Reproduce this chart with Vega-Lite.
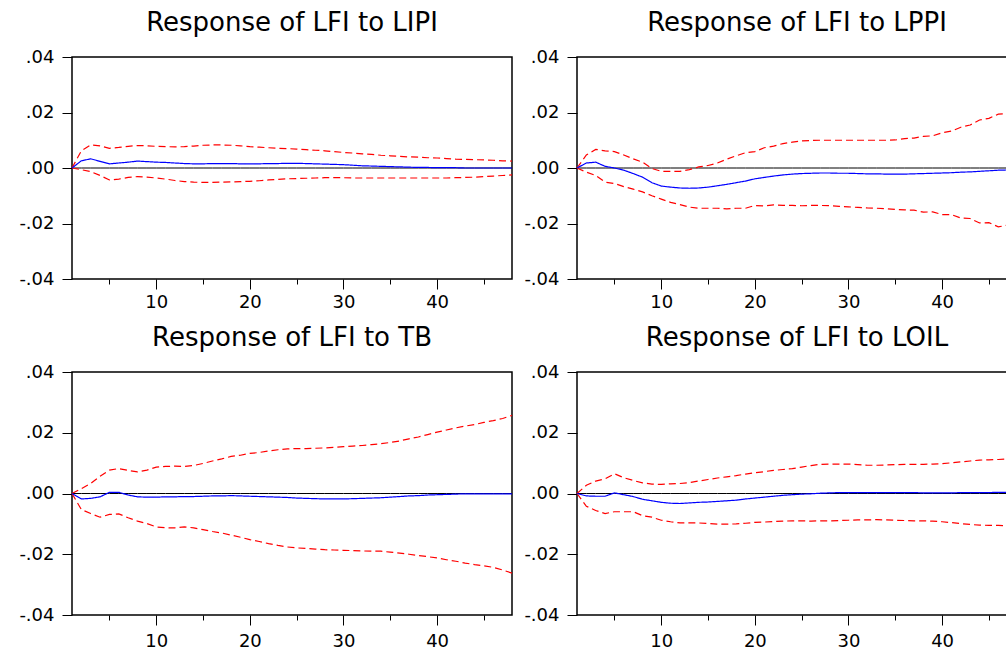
{
"$schema": "https://vega.github.io/schema/vega-lite/v6.json",
"padding": {"left": 11, "top": 9, "right": 0, "bottom": 0},
"background": "white",
"datasets": {
"LIPI": [
{"step":1,"response":0,"lower":0,"upper":0},
{"step":2,"response":0.0026,"lower":-0.0006,"upper":0.0062},
{"step":3,"response":0.0033,"lower":-0.0013,"upper":0.0083},
{"step":4,"response":0.0024,"lower":-0.0027,"upper":0.008},
{"step":5,"response":0.0015,"lower":-0.0043,"upper":0.0071},
{"step":6,"response":0.0018,"lower":-0.004,"upper":0.0074},
{"step":7,"response":0.0021,"lower":-0.0034,"upper":0.0078},
{"step":8,"response":0.0025,"lower":-0.0031,"upper":0.0081},
{"step":9,"response":0.0023,"lower":-0.0033,"upper":0.008},
{"step":10,"response":0.0021,"lower":-0.0036,"upper":0.0078},
{"step":11,"response":0.002,"lower":-0.004,"upper":0.0077},
{"step":12,"response":0.0018,"lower":-0.0045,"upper":0.0076},
{"step":13,"response":0.0016,"lower":-0.0049,"upper":0.0077},
{"step":14,"response":0.0015,"lower":-0.0051,"upper":0.0079},
{"step":15,"response":0.0015,"lower":-0.0052,"upper":0.0082},
{"step":16,"response":0.0016,"lower":-0.0052,"upper":0.0083},
{"step":17,"response":0.0016,"lower":-0.0051,"upper":0.0083},
{"step":18,"response":0.0016,"lower":-0.005,"upper":0.0082},
{"step":19,"response":0.0015,"lower":-0.0049,"upper":0.008},
{"step":20,"response":0.0015,"lower":-0.0048,"upper":0.0077},
{"step":21,"response":0.0015,"lower":-0.0046,"upper":0.0075},
{"step":22,"response":0.0016,"lower":-0.0043,"upper":0.0073},
{"step":23,"response":0.0016,"lower":-0.0041,"upper":0.0071},
{"step":24,"response":0.0017,"lower":-0.0039,"upper":0.007},
{"step":25,"response":0.0017,"lower":-0.0038,"upper":0.0068},
{"step":26,"response":0.0016,"lower":-0.0037,"upper":0.0066},
{"step":27,"response":0.0015,"lower":-0.0036,"upper":0.0064},
{"step":28,"response":0.0014,"lower":-0.0035,"upper":0.0062},
{"step":29,"response":0.0013,"lower":-0.0035,"upper":0.0059},
{"step":30,"response":0.0012,"lower":-0.0035,"upper":0.0056},
{"step":31,"response":0.001,"lower":-0.0036,"upper":0.0054},
{"step":32,"response":0.0008,"lower":-0.0036,"upper":0.0051},
{"step":33,"response":0.0007,"lower":-0.0036,"upper":0.0049},
{"step":34,"response":0.0006,"lower":-0.0036,"upper":0.0046},
{"step":35,"response":0.0005,"lower":-0.0036,"upper":0.0044},
{"step":36,"response":0.0004,"lower":-0.0036,"upper":0.0042},
{"step":37,"response":0.0003,"lower":-0.0036,"upper":0.004},
{"step":38,"response":0.0002,"lower":-0.0036,"upper":0.0039},
{"step":39,"response":0.0002,"lower":-0.0036,"upper":0.0037},
{"step":40,"response":0.0001,"lower":-0.0036,"upper":0.0036},
{"step":41,"response":0.0001,"lower":-0.0036,"upper":0.0034},
{"step":42,"response":0.0001,"lower":-0.0035,"upper":0.0032},
{"step":43,"response":0,"lower":-0.0034,"upper":0.0031},
{"step":44,"response":0,"lower":-0.0033,"upper":0.003},
{"step":45,"response":0,"lower":-0.0031,"upper":0.0029},
{"step":46,"response":0,"lower":-0.0029,"upper":0.0028},
{"step":47,"response":0,"lower":-0.0027,"upper":0.0026},
{"step":48,"response":0,"lower":-0.0025,"upper":0.0025}
],
"LPPI": [
{"step":1,"response":0,"lower":0,"upper":0},
{"step":2,"response":0.0018,"lower":-0.0015,"upper":0.0047},
{"step":3,"response":0.0021,"lower":-0.0027,"upper":0.0067},
{"step":4,"response":0.0006,"lower":-0.0051,"upper":0.0062},
{"step":5,"response":0,"lower":-0.0056,"upper":0.0059},
{"step":6,"response":-0.0008,"lower":-0.0067,"upper":0.0047},
{"step":7,"response":-0.002,"lower":-0.0076,"upper":0.0033},
{"step":8,"response":-0.0033,"lower":-0.0086,"upper":0.0021},
{"step":9,"response":-0.0053,"lower":-0.01,"upper":-0.0002},
{"step":10,"response":-0.0065,"lower":-0.0112,"upper":-0.0012},
{"step":11,"response":-0.0069,"lower":-0.0124,"upper":-0.0012},
{"step":12,"response":-0.0072,"lower":-0.0132,"upper":-0.0012},
{"step":13,"response":-0.0073,"lower":-0.0141,"upper":-0.0006},
{"step":14,"response":-0.0072,"lower":-0.0145,"upper":0.0004},
{"step":15,"response":-0.0069,"lower":-0.0145,"upper":0.0009},
{"step":16,"response":-0.0064,"lower":-0.0145,"upper":0.0018},
{"step":17,"response":-0.0059,"lower":-0.0147,"upper":0.0032},
{"step":18,"response":-0.0053,"lower":-0.0145,"upper":0.0044},
{"step":19,"response":-0.0047,"lower":-0.0145,"upper":0.0055},
{"step":20,"response":-0.0039,"lower":-0.0135,"upper":0.0059},
{"step":21,"response":-0.0034,"lower":-0.0137,"upper":0.0073},
{"step":22,"response":-0.0029,"lower":-0.0133,"upper":0.0079},
{"step":23,"response":-0.0025,"lower":-0.0135,"upper":0.0088},
{"step":24,"response":-0.0022,"lower":-0.0135,"upper":0.0093},
{"step":25,"response":-0.002,"lower":-0.0136,"upper":0.0098},
{"step":26,"response":-0.0019,"lower":-0.0135,"upper":0.0099},
{"step":27,"response":-0.0018,"lower":-0.0135,"upper":0.01},
{"step":28,"response":-0.0018,"lower":-0.0136,"upper":0.01},
{"step":29,"response":-0.0019,"lower":-0.0138,"upper":0.01},
{"step":30,"response":-0.0019,"lower":-0.014,"upper":0.01},
{"step":31,"response":-0.002,"lower":-0.0142,"upper":0.01},
{"step":32,"response":-0.0021,"lower":-0.0144,"upper":0.01},
{"step":33,"response":-0.0021,"lower":-0.0145,"upper":0.01},
{"step":34,"response":-0.0022,"lower":-0.0147,"upper":0.01},
{"step":35,"response":-0.0022,"lower":-0.0149,"upper":0.0101},
{"step":36,"response":-0.0022,"lower":-0.0151,"upper":0.0106},
{"step":37,"response":-0.0021,"lower":-0.0152,"upper":0.0108},
{"step":38,"response":-0.002,"lower":-0.0159,"upper":0.0114},
{"step":39,"response":-0.0019,"lower":-0.0158,"upper":0.0116},
{"step":40,"response":-0.0018,"lower":-0.0168,"upper":0.0127},
{"step":41,"response":-0.0017,"lower":-0.0168,"upper":0.0133},
{"step":42,"response":-0.0015,"lower":-0.018,"upper":0.0147},
{"step":43,"response":-0.0014,"lower":-0.0182,"upper":0.0155},
{"step":44,"response":-0.0012,"lower":-0.0198,"upper":0.0173},
{"step":45,"response":-0.001,"lower":-0.0197,"upper":0.0179},
{"step":46,"response":-0.0008,"lower":-0.0212,"upper":0.0194},
{"step":47,"response":-0.0007,"lower":-0.0206,"upper":0.0196},
{"step":48,"response":-0.0005,"lower":-0.0215,"upper":0.0198}
],
"TB": [
{"step":1,"response":0,"lower":0,"upper":0},
{"step":2,"response":-0.0018,"lower":-0.0053,"upper":0.0016},
{"step":3,"response":-0.0016,"lower":-0.0066,"upper":0.0033},
{"step":4,"response":-0.0011,"lower":-0.0078,"upper":0.0057},
{"step":5,"response":0.0004,"lower":-0.0069,"upper":0.0077},
{"step":6,"response":0.0004,"lower":-0.0067,"upper":0.0082},
{"step":7,"response":-0.0005,"lower":-0.008,"upper":0.0076},
{"step":8,"response":-0.0011,"lower":-0.0091,"upper":0.0071},
{"step":9,"response":-0.0012,"lower":-0.0099,"upper":0.0077},
{"step":10,"response":-0.0012,"lower":-0.011,"upper":0.0087},
{"step":11,"response":-0.0011,"lower":-0.0113,"upper":0.0089},
{"step":12,"response":-0.0011,"lower":-0.0113,"upper":0.009},
{"step":13,"response":-0.001,"lower":-0.011,"upper":0.0089},
{"step":14,"response":-0.001,"lower":-0.0113,"upper":0.0092},
{"step":15,"response":-0.0009,"lower":-0.0119,"upper":0.0099},
{"step":16,"response":-0.0008,"lower":-0.0125,"upper":0.0107},
{"step":17,"response":-0.0008,"lower":-0.013,"upper":0.0114},
{"step":18,"response":-0.0007,"lower":-0.0137,"upper":0.0122},
{"step":19,"response":-0.0008,"lower":-0.0144,"upper":0.0126},
{"step":20,"response":-0.0009,"lower":-0.0152,"upper":0.0132},
{"step":21,"response":-0.001,"lower":-0.0158,"upper":0.0135},
{"step":22,"response":-0.0011,"lower":-0.0165,"upper":0.014},
{"step":23,"response":-0.0012,"lower":-0.0171,"upper":0.0144},
{"step":24,"response":-0.0013,"lower":-0.0176,"upper":0.0147},
{"step":25,"response":-0.0015,"lower":-0.0179,"upper":0.0148},
{"step":26,"response":-0.0016,"lower":-0.0181,"upper":0.0148},
{"step":27,"response":-0.0017,"lower":-0.0183,"upper":0.0149},
{"step":28,"response":-0.0018,"lower":-0.0185,"upper":0.015},
{"step":29,"response":-0.0018,"lower":-0.0186,"upper":0.0152},
{"step":30,"response":-0.0018,"lower":-0.0187,"upper":0.0154},
{"step":31,"response":-0.0017,"lower":-0.0188,"upper":0.0156},
{"step":32,"response":-0.0016,"lower":-0.0189,"upper":0.0158},
{"step":33,"response":-0.0015,"lower":-0.019,"upper":0.0161},
{"step":34,"response":-0.0014,"lower":-0.019,"upper":0.0164},
{"step":35,"response":-0.0012,"lower":-0.0193,"upper":0.0168},
{"step":36,"response":-0.001,"lower":-0.0196,"upper":0.0173},
{"step":37,"response":-0.0008,"lower":-0.02,"upper":0.018},
{"step":38,"response":-0.0007,"lower":-0.0204,"upper":0.0186},
{"step":39,"response":-0.0005,"lower":-0.0208,"upper":0.0194},
{"step":40,"response":-0.0004,"lower":-0.0212,"upper":0.0202},
{"step":41,"response":-0.0003,"lower":-0.0218,"upper":0.0209},
{"step":42,"response":-0.0002,"lower":-0.0223,"upper":0.0216},
{"step":43,"response":-0.0001,"lower":-0.0229,"upper":0.0222},
{"step":44,"response":-0.0001,"lower":-0.0234,"upper":0.0227},
{"step":45,"response":-0.0001,"lower":-0.0238,"upper":0.0234},
{"step":46,"response":-0.0001,"lower":-0.0243,"upper":0.024},
{"step":47,"response":-0.0001,"lower":-0.0252,"upper":0.0247},
{"step":48,"response":-0.0001,"lower":-0.0262,"upper":0.0257}
],
"LOIL": [
{"step":1,"response":0,"lower":0,"upper":0},
{"step":2,"response":-0.0008,"lower":-0.0042,"upper":0.0027},
{"step":3,"response":-0.0009,"lower":-0.0056,"upper":0.0041},
{"step":4,"response":-0.0009,"lower":-0.0066,"upper":0.0048},
{"step":5,"response":0.0002,"lower":-0.006,"upper":0.0065},
{"step":6,"response":-0.0004,"lower":-0.006,"upper":0.0052},
{"step":7,"response":-0.001,"lower":-0.006,"upper":0.0043},
{"step":8,"response":-0.0019,"lower":-0.0073,"upper":0.0035},
{"step":9,"response":-0.0024,"lower":-0.0078,"upper":0.0031},
{"step":10,"response":-0.0029,"lower":-0.0088,"upper":0.003},
{"step":11,"response":-0.0032,"lower":-0.0093,"upper":0.0032},
{"step":12,"response":-0.0033,"lower":-0.0097,"upper":0.0033},
{"step":13,"response":-0.0031,"lower":-0.0097,"upper":0.0036},
{"step":14,"response":-0.0029,"lower":-0.0097,"upper":0.0041},
{"step":15,"response":-0.0028,"lower":-0.0099,"upper":0.0046},
{"step":16,"response":-0.0026,"lower":-0.0101,"upper":0.0051},
{"step":17,"response":-0.0024,"lower":-0.0101,"upper":0.0055},
{"step":18,"response":-0.0022,"lower":-0.01,"upper":0.0059},
{"step":19,"response":-0.0018,"lower":-0.0098,"upper":0.0064},
{"step":20,"response":-0.0015,"lower":-0.0095,"upper":0.0068},
{"step":21,"response":-0.0012,"lower":-0.0094,"upper":0.0072},
{"step":22,"response":-0.0009,"lower":-0.0092,"upper":0.0076},
{"step":23,"response":-0.0006,"lower":-0.0091,"upper":0.0079},
{"step":24,"response":-0.0004,"lower":-0.009,"upper":0.0082},
{"step":25,"response":-0.0002,"lower":-0.009,"upper":0.0087},
{"step":26,"response":-0.0001,"lower":-0.0091,"upper":0.0092},
{"step":27,"response":0.0001,"lower":-0.009,"upper":0.0096},
{"step":28,"response":0.0002,"lower":-0.009,"upper":0.0097},
{"step":29,"response":0.0003,"lower":-0.0089,"upper":0.0097},
{"step":30,"response":0.0003,"lower":-0.0088,"upper":0.0097},
{"step":31,"response":0.0003,"lower":-0.0087,"upper":0.0095},
{"step":32,"response":0.0003,"lower":-0.0087,"upper":0.0093},
{"step":33,"response":0.0003,"lower":-0.0086,"upper":0.0093},
{"step":34,"response":0.0003,"lower":-0.0087,"upper":0.0094},
{"step":35,"response":0.0003,"lower":-0.0088,"upper":0.0095},
{"step":36,"response":0.0003,"lower":-0.0089,"upper":0.0096},
{"step":37,"response":0.0003,"lower":-0.009,"upper":0.0096},
{"step":38,"response":0.0002,"lower":-0.009,"upper":0.0096},
{"step":39,"response":0.0002,"lower":-0.0091,"upper":0.0097},
{"step":40,"response":0.0002,"lower":-0.0093,"upper":0.0098},
{"step":41,"response":0.0002,"lower":-0.0096,"upper":0.0101},
{"step":42,"response":0.0003,"lower":-0.0099,"upper":0.0104},
{"step":43,"response":0.0003,"lower":-0.0102,"upper":0.0107},
{"step":44,"response":0.0003,"lower":-0.0104,"upper":0.011},
{"step":45,"response":0.0003,"lower":-0.0105,"upper":0.0111},
{"step":46,"response":0.0004,"lower":-0.0105,"upper":0.0112},
{"step":47,"response":0.0004,"lower":-0.0107,"upper":0.0114},
{"step":48,"response":0.0004,"lower":-0.0108,"upper":0.0115}
]
},
"bounds": "flush",
"columns": 2,
"spacing": {"row": 93, "column": 65},
"concat": [
{"width": 440, "height": 222, "title": "Response of LFI to LIPI", "data": {"name": "LIPI"},
 "transform": [{"fold": ["lower", "upper", "response"], "as": ["band", "value"]}],
 "encoding": {
  "x": {"field": "step", "type": "quantitative", "scale": {"domain": [1, 48], "nice": false, "zero": false}, "axis": {"title": null, "values": [5, 10, 15, 20, 25, 30, 35, 40, 45], "labelPadding": 4, "tickSize": {"condition": {"test": "datum.value % 10 == 0", "value": 10}, "value": 5}, "labelExpr": "datum.value % 10 == 0 ? datum.label : ''"}},
  "y": {"field": "value", "type": "quantitative", "scale": {"domain": [-0.04, 0.04], "nice": false, "zero": false}, "axis": {"title": null, "values": [-0.04, -0.02, 0, 0.02, 0.04], "labelExpr": "(datum.value < 0 ? '-' : '') + replace(format(abs(datum.value), '.2f'), '0.', '.')"}}
 },
 "layer": [
  {"mark": {"type": "line", "color": "black", "strokeWidth": 1}, "encoding": {"y": {"datum": 0, "type": "quantitative"}}},
  {"mark": {"type": "line", "strokeWidth": 1.2}, "encoding": {
    "color": {"field": "band", "type": "nominal", "scale": {"domain": ["lower", "upper", "response"], "range": ["#ff0000", "#ff0000", "#0000ff"]}, "legend": null},
    "strokeDash": {"field": "band", "type": "nominal", "scale": {"domain": ["lower", "upper", "response"], "range": [[7, 4], [7, 4], [1, 0]]}, "legend": null}}}
 ]},
{"width": 440, "height": 222, "title": "Response of LFI to LPPI", "data": {"name": "LPPI"},
 "transform": [{"fold": ["lower", "upper", "response"], "as": ["band", "value"]}],
 "encoding": {
  "x": {"field": "step", "type": "quantitative", "scale": {"domain": [1, 48], "nice": false, "zero": false}, "axis": {"title": null, "values": [5, 10, 15, 20, 25, 30, 35, 40, 45], "labelPadding": 4, "tickSize": {"condition": {"test": "datum.value % 10 == 0", "value": 10}, "value": 5}, "labelExpr": "datum.value % 10 == 0 ? datum.label : ''"}},
  "y": {"field": "value", "type": "quantitative", "scale": {"domain": [-0.04, 0.04], "nice": false, "zero": false}, "axis": {"title": null, "values": [-0.04, -0.02, 0, 0.02, 0.04], "labelExpr": "(datum.value < 0 ? '-' : '') + replace(format(abs(datum.value), '.2f'), '0.', '.')"}}
 },
 "layer": [
  {"mark": {"type": "line", "color": "black", "strokeWidth": 1}, "encoding": {"y": {"datum": 0, "type": "quantitative"}}},
  {"mark": {"type": "line", "strokeWidth": 1.2}, "encoding": {
    "color": {"field": "band", "type": "nominal", "scale": {"domain": ["lower", "upper", "response"], "range": ["#ff0000", "#ff0000", "#0000ff"]}, "legend": null},
    "strokeDash": {"field": "band", "type": "nominal", "scale": {"domain": ["lower", "upper", "response"], "range": [[7, 4], [7, 4], [1, 0]]}, "legend": null}}}
 ]},
{"width": 440, "height": 243, "title": "Response of LFI to TB", "data": {"name": "TB"},
 "transform": [{"fold": ["lower", "upper", "response"], "as": ["band", "value"]}],
 "encoding": {
  "x": {"field": "step", "type": "quantitative", "scale": {"domain": [1, 48], "nice": false, "zero": false}, "axis": {"title": null, "values": [5, 10, 15, 20, 25, 30, 35, 40, 45], "labelPadding": 7, "tickSize": {"condition": {"test": "datum.value % 10 == 0", "value": 10}, "value": 5}, "labelExpr": "datum.value % 10 == 0 ? datum.label : ''"}},
  "y": {"field": "value", "type": "quantitative", "scale": {"domain": [-0.04, 0.04], "nice": false, "zero": false}, "axis": {"title": null, "values": [-0.04, -0.02, 0, 0.02, 0.04], "labelExpr": "(datum.value < 0 ? '-' : '') + replace(format(abs(datum.value), '.2f'), '0.', '.')"}}
 },
 "layer": [
  {"mark": {"type": "line", "color": "black", "strokeWidth": 1}, "encoding": {"y": {"datum": 0, "type": "quantitative"}}},
  {"mark": {"type": "line", "strokeWidth": 1.2}, "encoding": {
    "color": {"field": "band", "type": "nominal", "scale": {"domain": ["lower", "upper", "response"], "range": ["#ff0000", "#ff0000", "#0000ff"]}, "legend": null},
    "strokeDash": {"field": "band", "type": "nominal", "scale": {"domain": ["lower", "upper", "response"], "range": [[7, 4], [7, 4], [1, 0]]}, "legend": null}}}
 ]},
{"width": 440, "height": 243, "title": "Response of LFI to LOIL", "data": {"name": "LOIL"},
 "transform": [{"fold": ["lower", "upper", "response"], "as": ["band", "value"]}],
 "encoding": {
  "x": {"field": "step", "type": "quantitative", "scale": {"domain": [1, 48], "nice": false, "zero": false}, "axis": {"title": null, "values": [5, 10, 15, 20, 25, 30, 35, 40, 45], "labelPadding": 7, "tickSize": {"condition": {"test": "datum.value % 10 == 0", "value": 10}, "value": 5}, "labelExpr": "datum.value % 10 == 0 ? datum.label : ''"}},
  "y": {"field": "value", "type": "quantitative", "scale": {"domain": [-0.04, 0.04], "nice": false, "zero": false}, "axis": {"title": null, "values": [-0.04, -0.02, 0, 0.02, 0.04], "labelExpr": "(datum.value < 0 ? '-' : '') + replace(format(abs(datum.value), '.2f'), '0.', '.')"}}
 },
 "layer": [
  {"mark": {"type": "line", "color": "black", "strokeWidth": 1}, "encoding": {"y": {"datum": 0, "type": "quantitative"}}},
  {"mark": {"type": "line", "strokeWidth": 1.2}, "encoding": {
    "color": {"field": "band", "type": "nominal", "scale": {"domain": ["lower", "upper", "response"], "range": ["#ff0000", "#ff0000", "#0000ff"]}, "legend": null},
    "strokeDash": {"field": "band", "type": "nominal", "scale": {"domain": ["lower", "upper", "response"], "range": [[7, 4], [7, 4], [1, 0]]}, "legend": null}}}
 ]}
],
"config": {
 "view": {"stroke": "black", "strokeWidth": 1.5},
 "font": "DejaVu Sans",
 "axis": {"grid": false, "domain": false, "tickColor": "black", "tickWidth": 1, "labelColor": "black", "labelFont": "DejaVu Sans", "labelFontSize": 18, "labelOverlap": false, "labelFlush": false},
 "axisY": {"tickSize": 10, "labelPadding": 8, "minExtent": 60, "maxExtent": 60},
 "title": {"fontSize": 26, "font": "DejaVu Sans", "fontWeight": "normal", "color": "black", "frame": "group", "anchor": "middle", "baseline": "alphabetic", "offset": 12}
}
}
